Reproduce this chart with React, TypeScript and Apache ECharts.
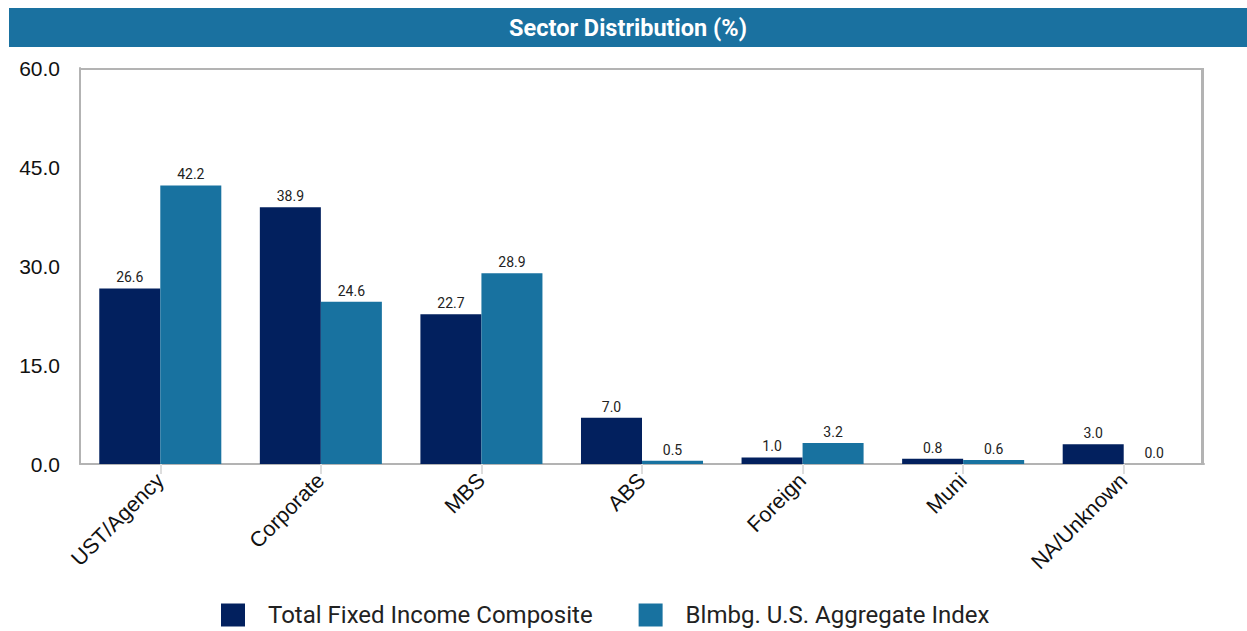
import React, { useEffect, useRef } from "react";
import * as echarts from "echarts";

const categories = ["UST/Agency", "Corporate", "MBS", "ABS", "Foreign", "Muni", "NA/Unknown"];
const composite = [26.6, 38.9, 22.7, 7.0, 1.0, 0.8, 3.0];
const aggregate = [42.2, 24.6, 28.9, 0.5, 3.2, 0.6, 0.0];
const seriesNames = ["Total Fixed Income Composite", "Blmbg. U.S. Aggregate Index"];
const title = "Sector Distribution (%)";

export default function App() {
  const ref = useRef<HTMLDivElement>(null);
  useEffect(() => {
    const chart = echarts.init(ref.current!, null, { renderer: "svg" });
    const labelStyle = {
      show: true,
      position: "top" as const,
      fontSize: 14,
      color: "#222",
      fontFamily: "Roboto",
      distance: 4,
      formatter: (p: any) => Number(p.value).toFixed(1),
    };
    chart.setOption({
      animation: false,
      graphic: [
        {
          type: "rect",
          shape: { x: 9, y: 8, width: 1238, height: 39 },
          style: { fill: "#1a71a0" },
          silent: true,
        },
        {
          type: "text",
          x: 628,
          y: 28,
          style: {
            text: title,
            fill: "#fff",
            font: "bold 23.5px Roboto",
            align: "center",
            verticalAlign: "middle",
          },
        },
      ],
      legend: {
        bottom: -1,
        left: 216,
        itemWidth: 24,
        itemHeight: 23,
        itemGap: 46,
        icon: "rect",
        textStyle: { fontSize: 24, fontFamily: "Roboto", color: "#222", padding: [0, 0, 0, 18] },
        data: seriesNames,
      },
      grid: { left: 80, right: 43, top: 68, bottom: 167 },
      xAxis: {
        type: "category",
        data: categories,
        axisLine: { lineStyle: { color: "#b3b3b3", width: 2 } },
        axisTick: { show: true, alignWithLabel: true, length: 10, lineStyle: { color: "#dddddd", width: 2 } },
        axisLabel: {
          rotate: 45,
          fontSize: 21.5,
          color: "#111",
          fontFamily: "Liberation Sans",
          margin: 13,
        },
      },
      yAxis: {
        type: "value",
        min: 0,
        max: 60,
        interval: 15,
        axisLine: { show: true, lineStyle: { color: "#b3b3b3", width: 2 } },
        splitLine: { show: false },
        axisLabel: {
          fontSize: 21,
          color: "#111",
          fontFamily: "Liberation Sans",
          margin: 20,
          formatter: (v: number) => v.toFixed(1),
        },
      },
      series: [
        {
          name: seriesNames[0],
          type: "bar",
          data: composite,
          itemStyle: { color: "#02205e" },
          barGap: "0%",
          barCategoryGap: "24%",
          label: labelStyle,
        },
        {
          name: seriesNames[1],
          type: "bar",
          data: aggregate,
          itemStyle: { color: "#1872a0" },
          label: labelStyle,
        },
      ],
    });
    return () => chart.dispose();
  }, []);
  return (
    <div style={{ position: "absolute", left: 0, top: 0, width: 1247, height: 631 }}>
      <div ref={ref} style={{ width: 1247, height: 631 }} />
      <div
        style={{
          position: "absolute",
          left: 80,
          top: 68,
          width: 1124,
          height: 396,
          borderTop: "2px solid #b3b3b3",
          borderRight: "3px solid #b3b3b3",
          boxSizing: "border-box",
          pointerEvents: "none",
        }}
      />
    </div>
  );
}
